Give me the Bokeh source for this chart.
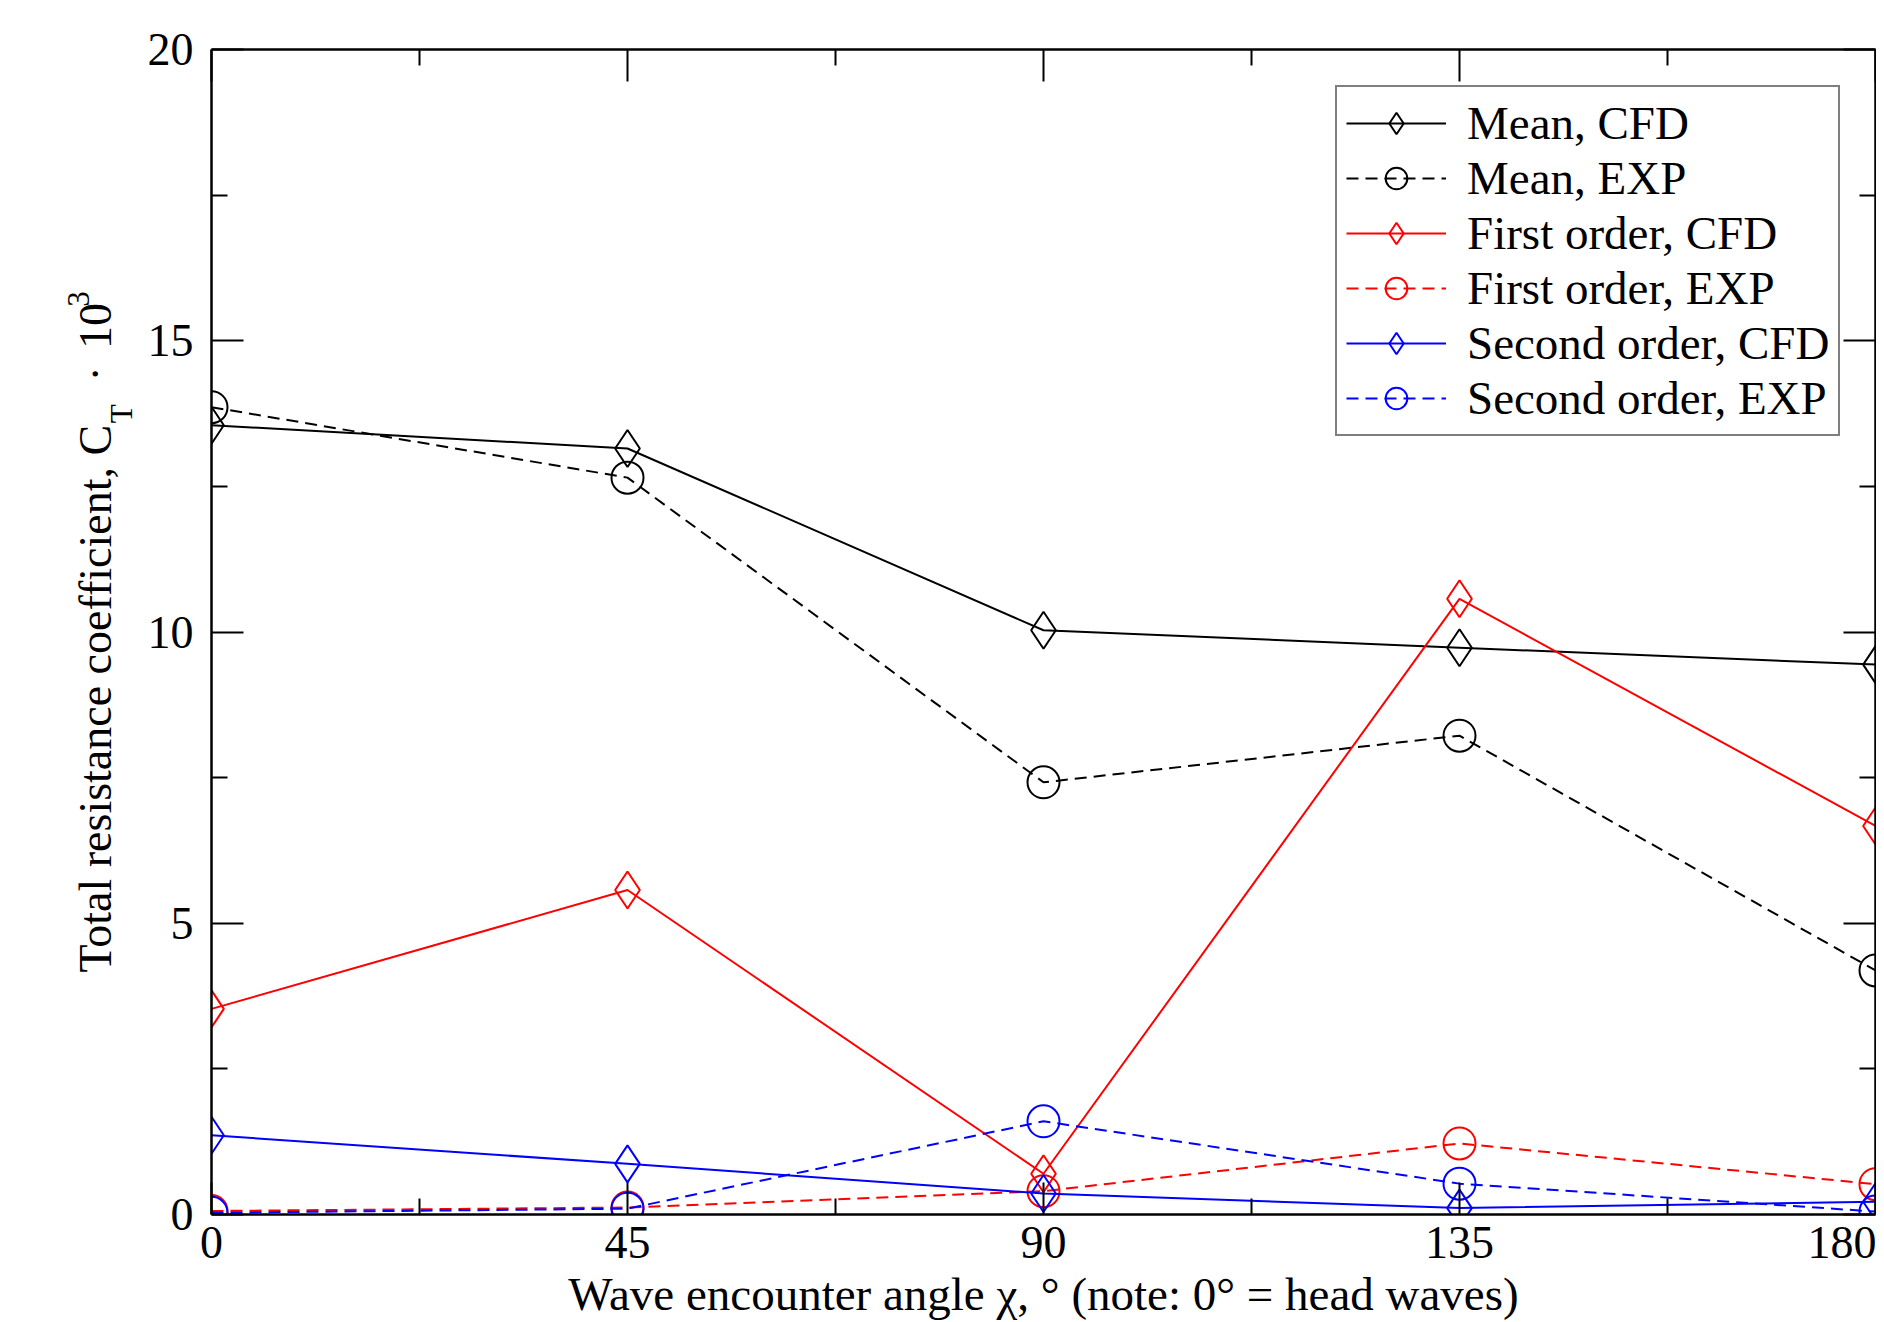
import math
from bokeh.plotting import figure
from bokeh.layouts import row
from bokeh.models import (Range1d, FixedTicker, LinearAxis, Legend, LegendItem,
                          CustomJSTickFormatter)
from bokeh.core.properties import value
from bokeh.embed import file_html
from bokeh.resources import INLINE

# ---- data ----
angles = [0, 45, 90, 135, 180]
mean_cfd = [13.55, 13.15, 10.03, 9.73, 9.44]
mean_exp = [13.86, 12.65, 7.42, 8.22, 4.19]
first_cfd = [3.53, 5.57, 0.70, 10.57, 6.67]
first_exp = [0.06, 0.12, 0.40, 1.22, 0.52]
second_cfd = [1.36, 0.87, 0.36, 0.11, 0.22]
second_exp = [0.03, 0.10, 1.60, 0.53, 0.05]

x_ticks = [0, 45, 90, 135, 180]
x_minor = [22.5, 67.5, 112.5, 157.5]
y_ticks = [0, 5, 10, 15, 20]
y_minor = [2.5, 7.5, 12.5, 17.5]

x_label = "Wave encounter angle \u03c7, \u00b0 (note: 0\u00b0 = head waves)"
y_label_main = "Total resistance coefficient, C"
y_label_sub = "T"
y_label_dot = "\u00b7"
y_label_ten = "10"
y_label_sup = "3"

FONT = "Liberation Serif"
H = 1322
LW = 140          # width of the strip holding the rotated y-axis title
MW = 1736         # width of the main plot

# ---------- strip with the y-axis title (real text, with sub/superscript) ----------
lab = figure(width=LW, height=H, x_range=Range1d(0, LW), y_range=Range1d(0, H),
             output_backend="svg", toolbar_location=None,
             x_axis_location=None, y_axis_location=None, min_border=0)
lab.grid.visible = False
lab.outline_line_color = None
rot = math.pi / 2


def put(txt, px, py, size, align):
    lab.text(x=[px], y=[H - py], text=[txt], angle=rot,
             text_font=value(FONT), text_font_size=value(size),
             text_align=align, text_baseline="alphabetic", text_color="black")


put(y_label_main, 95, 426, "46px", "right")
put(y_label_sub, 121, 424, "31px", "left")
put(y_label_dot, 95, 368, "46px", "center")
put(y_label_ten, 95, 340, "46px", "left")
put(y_label_sup, 78, 292, "31px", "left")

# ---------- main plot ----------
p = figure(width=MW, height=H,
           x_range=Range1d(0, 180), y_range=Range1d(0, 20),
           output_backend="svg", toolbar_location=None,
           x_axis_location=None, y_axis_location=None,
           min_border_left=211 - LW, min_border_right=1,
           min_border_top=49, min_border_bottom=108)
p.grid.visible = False
p.outline_line_color = None
p.background_fill_color = "white"
p.border_fill_color = "white"


def make_axis(ticks, minor, show):
    ax = LinearAxis(ticker=FixedTicker(ticks=ticks, minor_ticks=minor))
    ax.axis_line_width = 2.5
    ax.axis_line_color = "black"
    ax.major_tick_in = 32
    ax.major_tick_out = 0
    ax.minor_tick_in = 16
    ax.minor_tick_out = 0
    ax.major_tick_line_width = 2
    ax.minor_tick_line_width = 2
    ax.major_label_text_font = FONT
    ax.major_label_text_color = "black"
    ax.major_label_text_font_size = "46px"
    if not show:
        ax.formatter = CustomJSTickFormatter(code="return ''")
        ax.major_label_standoff = 0
    return ax


bx = make_axis(x_ticks, x_minor, True)
bx.major_label_standoff = 12
bx.axis_label = x_label
bx.axis_label_text_font = FONT
bx.axis_label_text_font_size = "47px"
bx.axis_label_text_font_style = "normal"
bx.axis_label_text_color = "black"
bx.axis_label_standoff = 7
ly = make_axis(y_ticks, y_minor, True)
ly.major_label_standoff = 18
tx = make_axis(x_ticks, x_minor, False)
ry = make_axis(y_ticks, y_minor, False)
p.add_layout(bx, "below")
p.add_layout(ly, "left")
p.add_layout(tx, "above")
p.add_layout(ry, "right")

series = [
    (mean_cfd, "black", "solid", "diamond", "Mean, CFD"),
    (mean_exp, "black", "12 7", "circle", "Mean, EXP"),
    (first_cfd, "#ff0000", "solid", "diamond", "First order, CFD"),
    (first_exp, "#ff0000", "12 7", "circle", "First order, EXP"),
    (second_cfd, "#0000ff", "solid", "diamond", "Second order, CFD"),
    (second_exp, "#0000ff", "12 7", "circle", "Second order, EXP"),
]

items = []
for vals, color, dash, marker, name in series:
    lr = p.line(angles, vals, line_color=color, line_width=2, line_dash=dash)
    size = 37 if marker == "diamond" else 32
    sr = p.scatter(angles, vals, marker=marker, size=size,
                   fill_color=None, line_color=color, line_width=2)
    items.append(LegendItem(label=name, renderers=[lr, sr]))

legend = Legend(items=items, location=(1124, 778))
legend.border_line_color = "black"
legend.border_line_width = 2.5
legend.background_fill_color = "white"
legend.background_fill_alpha = 1.0
legend.label_text_font = FONT
legend.label_text_font_size = "47px"
legend.label_text_color = "black"
legend.glyph_width = 100
legend.glyph_height = 54
legend.label_height = 54
legend.spacing = 1
legend.padding = 9
legend.margin = 0
legend.label_standoff = 21
p.add_layout(legend)

layout = row(lab, p, spacing=0)
open("out.html", "w").write(file_html(layout, INLINE))
